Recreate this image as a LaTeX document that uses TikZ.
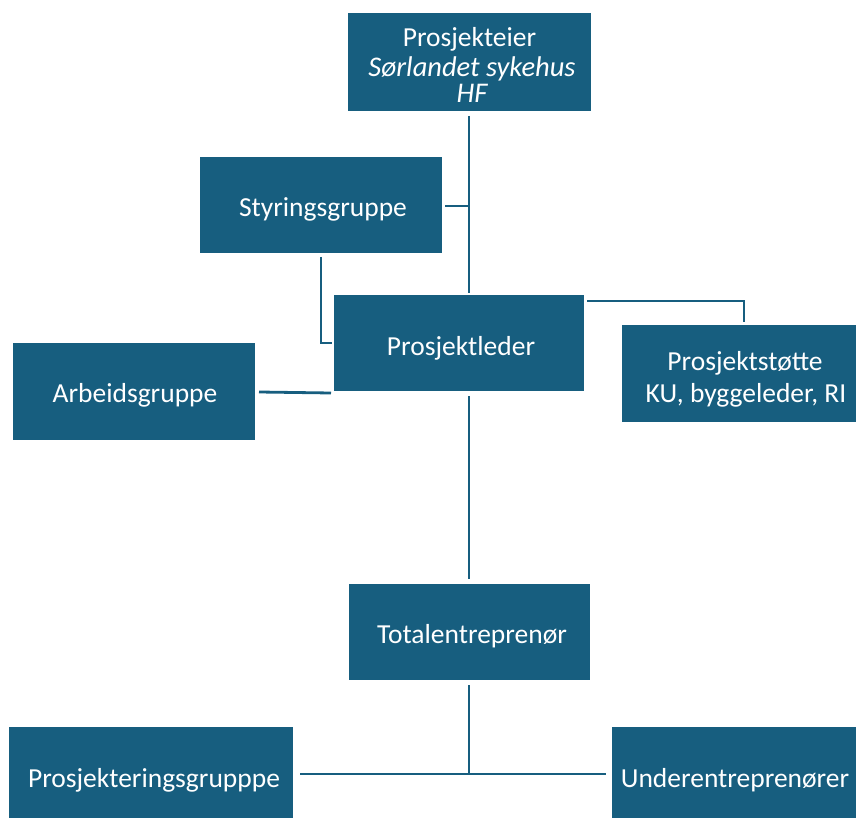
\documentclass[tikz,border=0pt]{standalone}
\usepackage{fontspec}
\setmainfont{Carlito}
\definecolor{boxblue}{RGB}{23,94,127}
\begin{document}
\begin{tikzpicture}[x=1pt,y=-1pt,
  boxfill/.style={fill=boxblue,draw=none},
  lbl/.style={text=white,font=\fontsize{27.5}{30}\selectfont,inner sep=0pt,anchor=base},
  itlbl/.style={lbl,font=\fontsize{28.5}{30}\selectfont\itshape},
  conn/.style={draw=boxblue,line width=2.8pt}]
\useasboundingbox (0,0) rectangle (856,818);
\path[boxfill] (348,13) rectangle (591,111);
\node[lbl] (eier) at (469.5,47) {Prosjekteier};
\node[itlbl] (eier2) at (472,77) {Sørlandet sykehus};
\node[itlbl] (eier3) at (472,103) {HF};
\path[boxfill] (200,157) rectangle (442,253);
\node[lbl] (styr) at (323,217) {Styringsgruppe};
\path[boxfill] (334,295) rectangle (584,391);
\node[lbl] (leder) at (461,355) {Prosjektleder};
\path[boxfill] (13,343) rectangle (255,440);
\node[lbl] (arb) at (135,402.5) {Arbeidsgruppe};
\path[boxfill] (622,325) rectangle (856,422);
\node[lbl] (stotte) at (745,370) {Prosjektstøtte};
\node[lbl] (stotte2) at (746,402) {KU, byggeleder, RI};
\path[boxfill] (349,584) rectangle (590,680);
\node[lbl] (total) at (472,643) {Totalentreprenør};
\path[boxfill] (9,727) rectangle (293,818);
\node[lbl] (prosj) at (154,787) {Prosjekteringsgrupppe};
\path[boxfill] (612,727) rectangle (856,818);
\node[lbl] (under) at (735,787) {Underentreprenører};
% connectors
\coordinate (a1) at (469,116);
\coordinate (a2) at (469,293);
\draw[conn] (a1) -- (a2);
\coordinate (s1) at (445,206);
\coordinate (s2) at (469,206);
\draw[conn] (s1) -- (s2);
\coordinate (s3) at (321,257);
\coordinate (s4) at (332,343);
\draw[conn] (s3) |- (s4);
\coordinate (w1) at (259,392);
\coordinate (w2) at (331,393);
\draw[conn] (w1) -- (w2);
\coordinate (p1) at (587,301);
\coordinate (p2) at (744,322);
\draw[conn] (p1) -| (p2);
\coordinate (l1) at (469,396);
\coordinate (l2) at (469,579);
\draw[conn] (l1) -- (l2);
\coordinate (t1) at (469,685);
\coordinate (t2) at (469,774);
\draw[conn] (t1) -- (t2);
\coordinate (h1) at (300,774);
\coordinate (h2) at (606,774);
\draw[conn] (h1) -- (h2);
\end{tikzpicture}
\end{document}
